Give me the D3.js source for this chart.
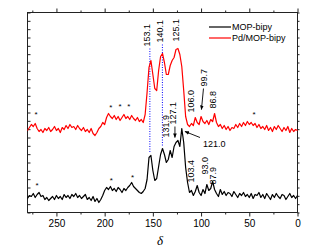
<!DOCTYPE html>
<html>
<head>
<meta charset="utf-8">
<script src="https://cdn.jsdelivr.net/npm/d3@7"></script>
<style>
  body { margin: 0; background: #fff; }
  svg { display: block; font-family: Arial, "Liberation Sans", sans-serif; }
</style>
</head>
<body>
<svg id="chart" width="313" height="252"></svg>
<script>
// chemical shift grid (ppm), 280 -> 0 in 2 ppm steps
const shift = d3.range(280, -1, -2);

// MOP-bipy (black)
const mopBipy = [
  14, 17, 16, 19, 15, 18, 20, 16, 17, 13,
  15, 12, 14, 16, 13, 17, 14, 16, 13, 18,
  15, 17, 14, 18, 16, 19, 15, 17, 14, 16,
  18, 13, 15, 12, 16, 11, 14, 10, 13, 17,
  22, 25, 23, 26, 22, 24, 21, 25, 23, 20,
  24, 22, 25, 27, 30, 26, 24, 22, 20, 19,
  21, 24, 33, 55, 57, 42, 32, 34, 46, 58,
  64, 58, 50, 53, 62, 55, 66, 70, 72, 66,
  84, 70, 45, 30, 20, 22, 17, 21, 27, 20,
  17, 23, 19, 28, 22, 24, 31, 23, 19, 16,
  23, 18, 21, 17, 20, 19, 16, 21, 18, 15,
  19, 17, 20, 16, 18, 15, 19, 14, 18, 17,
  20, 15, 18, 14, 19, 16, 13, 18, 15, 19,
  16, 14, 18, 17, 13, 16, 19, 15, 17, 14,
  17
];

// Pd/MOP-bipy (red)
const pdMopBipy = [
  82, 85, 88, 86, 89, 84, 81, 83, 80, 84,
  82, 85, 81, 83, 86, 82, 84, 80, 85, 83,
  87, 84, 88, 85, 86, 83, 87, 84, 82, 85,
  81, 83, 80, 84, 79, 77, 80, 84, 86, 90,
  88, 95, 99, 96, 94, 97, 93, 96, 92, 95,
  98, 94, 96, 93, 97, 94, 92, 95, 91, 93,
  90, 98, 120, 145, 152, 138, 124, 122, 142, 156,
  159, 150, 138, 138, 147, 152, 155, 163, 164, 158,
  146, 122, 96, 88, 86, 89, 87, 95, 90, 88,
  96, 91, 89, 92, 88, 93, 91, 99, 90, 86,
  88, 84, 87, 83, 86, 82, 85, 84, 88, 85,
  89, 86, 90, 87, 91, 88, 90, 87, 89, 85,
  88, 84, 86, 83, 87, 82, 85, 81, 86, 83,
  87, 84, 81, 85, 82, 86, 80, 84, 81, 83,
  82
];

const seriesNames = ['MOP-bipy', 'Pd/MOP-bipy'];
const seriesColors = ['#000000', '#ff0000'];
const xMajor = [250, 200, 150, 100, 50, 0];
const xMinor = [275, 225, 175, 125, 75, 25];

// peak labels: text, anchor [ppm, intensity] (label bottom)
const redPeaks = [['153.1', 153, 166], ['140.1', 139.5, 170], ['125.1', 123.4, 171],
                  ['106.0', 107, 100], ['99.7', 93.5, 126], ['86.8', 84.7, 104]];
const blackPeaks = [['131.9', 133, 75], ['127.1', 125.7, 88], ['103.4', 107.5, 30],
                    ['93.0', 93, 38], ['87.9', 84.7, 28]];
const redStars = [[271, 100], [193.5, 107], [184, 108], [175, 108], [45, 100]];
const blackStars = [[270, 29], [193, 34], [171, 37]];

const svg = d3.select('#chart');
const x = d3.scaleLinear().domain([280, 0]).range([27.5, 297.5]);
const y = d3.scaleLinear().domain([0, 200]).range([212.5, 12.5]);

svg.append('defs').append('marker')
  .attr('id', 'head')
  .attr('viewBox', '0 0 10 10')
  .attr('refX', 9).attr('refY', 5)
  .attr('markerWidth', 5).attr('markerHeight', 5)
  .attr('orient', 'auto')
  .append('path').attr('d', 'M0,1L10,5L0,9z').attr('fill', '#000');

// axes
const gx = svg.append('g').attr('transform', 'translate(0,212.5)');
gx.call(d3.axisBottom(x).tickValues(xMajor).tickSize(4).tickPadding(3));
gx.append('g').call(d3.axisBottom(x).tickValues(xMinor).tickSize(2).tickFormat(''));
const gt = svg.append('g').attr('transform', 'translate(0,12.5)');
gt.call(d3.axisTop(x).tickValues(xMajor).tickSize(4).tickFormat(''));
gt.append('g').call(d3.axisTop(x).tickValues(xMinor).tickSize(2).tickFormat(''));
const yTicks = d3.range(0, 200.1, 200 / 24);
svg.append('g').attr('transform', 'translate(27.5,0)')
  .call(d3.axisRight(y).tickValues(yTicks).tickSize(3).tickFormat(''));
svg.append('g').attr('transform', 'translate(297.5,0)')
  .call(d3.axisRight(y).tickValues(yTicks).tickSize(2).tickFormat(''));
svg.selectAll('.domain').remove();
svg.selectAll('.tick line').attr('stroke', '#222');
svg.selectAll('.tick text').attr('font-size', 10).attr('fill', '#000')
  .attr('font-family', 'Arial, "Liberation Sans", sans-serif');

svg.append('rect')
  .attr('x', 27.5).attr('y', 12.5).attr('width', 270).attr('height', 200)
  .attr('fill', 'none').attr('stroke', '#222').attr('stroke-width', 1);

svg.append('text')
  .attr('x', 160).attr('y', 245)
  .attr('text-anchor', 'middle')
  .attr('font-family', '"Liberation Serif", "Times New Roman", serif')
  .attr('font-style', 'italic').attr('font-size', 13)
  .text('δ');

// dotted guide lines
[[153.1, 164, 60], [140.1, 168, 66]].forEach(([p, y0, y1]) => {
  svg.append('line')
    .attr('x1', x(p)).attr('x2', x(p)).attr('y1', y(y0)).attr('y2', y(y1))
    .attr('stroke', '#0000ff').attr('stroke-width', 1).attr('stroke-dasharray', '1,1.5');
});

// spectra
const line = d3.line().x((d, i) => x(shift[i])).y(d => y(d));
[mopBipy, pdMopBipy].forEach((s, k) => {
  svg.append('path')
    .datum(s)
    .attr('d', line)
    .attr('fill', 'none')
    .attr('stroke', seriesColors[k])
    .attr('stroke-width', 1.2)
    .attr('stroke-linejoin', 'round');
});

// vertical peak labels
svg.selectAll('.peak')
  .data(redPeaks.concat(blackPeaks))
  .enter().append('text')
  .attr('class', 'peak')
  .attr('transform', d => `translate(${x(d[1])},${y(d[2])}) rotate(-90)`)
  .attr('font-size', 9)
  .text(d => d[0]);

svg.append('text')
  .attr('x', x(98)).attr('y', y(66))
  .attr('font-size', 9)
  .text('121.0');

// arrows
[[127.1, 86, 127.1, 75], [97.5, 124, 99.6, 103], [101.1, 75, 116.7, 81]].forEach(a => {
  svg.append('line')
    .attr('x1', x(a[0])).attr('y1', y(a[1])).attr('x2', x(a[2])).attr('y2', y(a[3]))
    .attr('stroke', '#000').attr('stroke-width', 0.9)
    .attr('marker-end', 'url(#head)');
});

// spinning side band markers
svg.selectAll('.star')
  .data(redStars.concat(blackStars))
  .enter().append('text')
  .attr('class', 'star')
  .attr('x', d => x(d[0])).attr('y', d => y(d[1]) + 4.5)
  .attr('text-anchor', 'middle')
  .attr('font-size', 8)
  .text('*');

// legend
const lg = svg.append('g');
seriesNames.forEach((n, k) => {
  const yy = 27 + k * 11;
  lg.append('line').attr('x1', 209).attr('x2', 231).attr('y1', yy).attr('y2', yy)
    .attr('stroke', seriesColors[k]).attr('stroke-width', 1.2);
  lg.append('text').attr('x', 232).attr('y', yy + 3.2)
    .attr('font-size', 9).text(n);
});
</script>
</body>
</html>
